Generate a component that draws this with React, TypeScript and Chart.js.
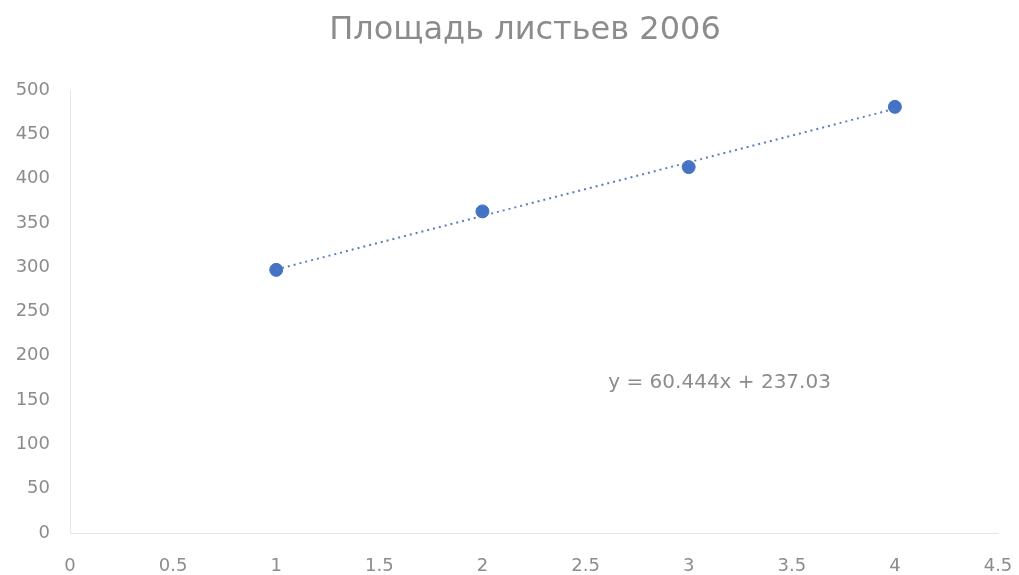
import React, { useEffect, useRef } from "react";
import { Chart, registerables } from "chart.js";

Chart.register(...registerables);

const TITLE = "Площадь листьев 2006";
const xValues = [1, 2, 3, 4];
const yValues = [297, 363, 413, 481];
const TREND_SLOPE = 60.444;
const TREND_INTERCEPT = 237.03;
const TREND_LABEL = "y = 60.444x + 237.03";

const FONT = "'DejaVu Sans', sans-serif";

export default function App() {
  const ref = useRef<HTMLCanvasElement | null>(null);
  useEffect(() => {
    if (!ref.current) return;
    const points = xValues.map((x, i) => ({ x, y: yValues[i] }));
    const xMin = Math.min(...xValues);
    const xMax = Math.max(...xValues);
    const trend = [
      { x: xMin, y: TREND_SLOPE * xMin + TREND_INTERCEPT },
      { x: xMax, y: TREND_SLOPE * xMax + TREND_INTERCEPT },
    ];
    const labelPlugin = {
      id: "trendLabel",
      afterDatasetsDraw(chart: any) {
        const { ctx, scales } = chart;
        const px = scales.x.getPixelForValue(3.15);
        const py = scales.y.getPixelForValue(169);
        ctx.save();
        ctx.font = "20px " + FONT;
        ctx.fillStyle = "#8c8c8c";
        ctx.textAlign = "center";
        ctx.textBaseline = "middle";
        ctx.fillText(TREND_LABEL, px, py);
        ctx.font = "32px " + FONT;
        ctx.fillText(TITLE, 525, 31);
        ctx.restore();
      },
    };
    const chart = new Chart(ref.current, {
      type: "scatter",
      data: {
        datasets: [
          {
            label: "trend",
            data: trend,
            showLine: true,
            borderColor: "#5b7fb5",
            borderWidth: 2,
            borderDash: [2, 4],
            pointRadius: 0,
            fill: false,
          },
          {
            label: "data",
            data: points,
            backgroundColor: "#4472c4",
            borderColor: "#4472c4",
            pointRadius: 6.5,
            pointStyle: "circle",
          },
        ],
      },
      options: {
        animation: false,
        responsive: false,
        maintainAspectRatio: false,
        layout: { padding: { left: 0, right: 21, top: 90, bottom: 0 } },
        plugins: {
          legend: { display: false },
          tooltip: { enabled: false },
          title: { display: false },
        },
        scales: {
          x: {
            type: "linear",
            min: 0,
            max: 4.5,
            ticks: {
              stepSize: 0.5,
              color: "#8c8c8c",
              font: { size: 18, family: FONT },
              padding: 23,
              callback: (v: any) => String(Number(v)),
            },
            grid: { display: false, drawTicks: false },
            border: { display: true, color: "#e6e6e6" },
            afterFit(scale: any) {
              scale.height = 42;
              scale.paddingLeft = 0;
              scale.paddingRight = 0;
            },
          },
          y: {
            type: "linear",
            min: 0,
            max: 500,
            ticks: {
              stepSize: 50,
              color: "#8c8c8c",
              font: { size: 18, family: FONT },
              padding: 20,
            },
            grid: { display: false, drawTicks: false },
            border: { display: true, color: "#e6e6e6" },
            afterFit(scale: any) {
              scale.width = 70;
              scale.paddingTop = 0;
              scale.paddingBottom = 0;
            },
          },
        },
      },
      plugins: [labelPlugin],
    });
    return () => chart.destroy();
  }, []);
  return (
    <div style={{ position: "fixed", left: 0, top: 0, width: 1019, height: 575, background: "#fff" }}>
      <canvas ref={ref} width={1019} height={575} style={{ display: "block" }} />
    </div>
  );
}
